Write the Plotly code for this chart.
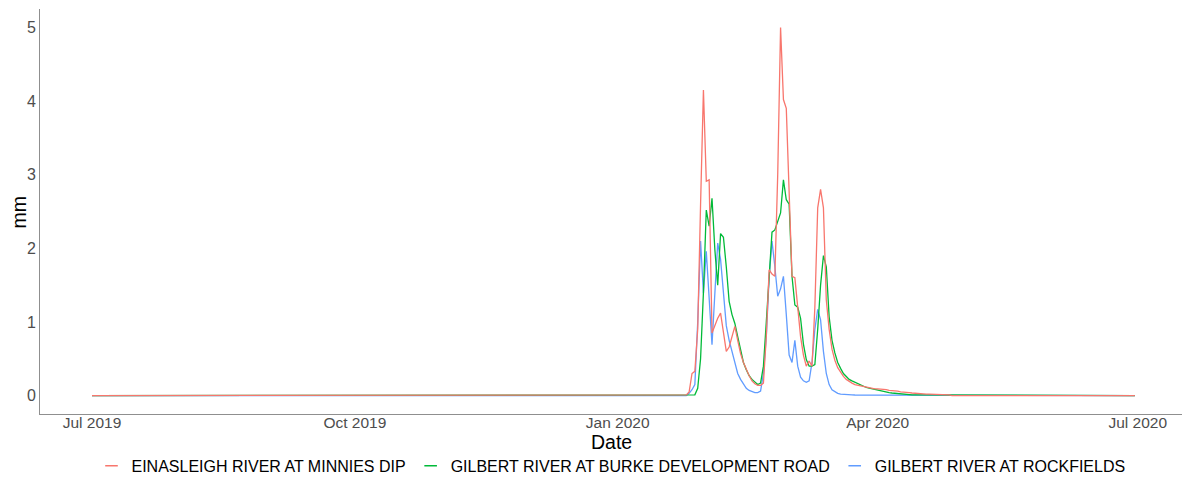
import pandas as pd
import plotly.graph_objects as go

# ---- data -------------------------------------------------------------
series_start = "2019-07-01"
series_end = "2020-06-30"
event_start = "2020-01-22"   # first day of the flow event window below

series_names = [
    "EINASLEIGH RIVER AT MINNIES DIP",
    "GILBERT RIVER AT BURKE DEVELOPMENT ROAD",
    "GILBERT RIVER AT ROCKFIELDS",
]
series_colors = ["#F8766D", "#00BA38", "#619CFF"]

einasleigh_event = [
    0, 0, 0, 0.01, 0.05, 0.30, 0.33, 0.9, 2.6, 4.15,
    2.91, 2.93, 0.85, 0.95, 1.05, 1.12, 0.85, 0.60, 0.66, 0.80,
    0.94, 0.75, 0.57, 0.45, 0.35, 0.27, 0.20, 0.16, 0.14, 0.14,
    0.17, 0.8, 1.71, 1.65, 1.62, 3.0, 5.0, 4.02, 3.9, 2.6,
    1.62, 1.6, 1.2, 0.8, 0.55, 0.40, 0.47, 0.40, 1.2, 2.55,
    2.80, 2.55, 1.3, 0.9, 0.63, 0.48, 0.38, 0.31, 0.26, 0.22,
    0.19, 0.17, 0.15, 0.14, 0.13, 0.12, 0.11, 0.10, 0.10, 0.09,
    0.09, 0.09, 0.08, 0.08, 0.07, 0.07, 0.06, 0.06, 0.05, 0.05,
    0.04, 0.04, 0.035, 0.03, 0.03, 0.025, 0.025, 0.02, 0.02, 0.02,
    0.015, 0.015, 0.015, 0.01, 0.01, 0.01,
]
burke_event = [
    0, 0, 0, 0, 0, 0, 0.01, 0.1, 0.5, 1.4,
    2.52, 2.3, 2.68, 1.98, 1.5, 2.2, 2.15, 1.75, 1.28, 1.1,
    0.98, 0.8, 0.6, 0.45, 0.35, 0.27, 0.22, 0.18, 0.15, 0.17,
    0.4, 1.0, 1.7, 2.22, 2.25, 2.38, 2.48, 2.93, 2.66, 2.6,
    1.62, 1.23, 1.2, 1.05, 0.7, 0.49, 0.4, 0.4, 0.42, 0.9,
    1.5, 1.9, 1.75, 1.07, 0.75, 0.58, 0.45, 0.37, 0.3, 0.26,
    0.22, 0.2, 0.18, 0.16, 0.14, 0.12, 0.11, 0.1, 0.09, 0.08,
    0.07, 0.06, 0.05, 0.045, 0.04, 0.035, 0.03, 0.025, 0.02, 0.02,
    0.015, 0.015, 0.01, 0.01, 0.01, 0.01, 0.008, 0.008, 0.006, 0.006,
    0.005, 0.005, 0.004, 0.004, 0.003, 0.003,
]
rockfields_event = [
    0, 0, 0, 0, 0.03, 0.08, 0.15, 1.0, 2.1, 1.39,
    1.96, 1.3, 0.69, 1.39, 2.07, 1.85, 1.4, 0.95, 0.75, 0.6,
    0.45, 0.3, 0.22, 0.15, 0.1, 0.07, 0.05, 0.04, 0.04, 0.06,
    0.3, 0.8, 1.6, 2.1, 1.75, 1.35, 1.45, 1.62, 1.1, 0.55,
    0.45, 0.75, 0.4, 0.25, 0.2, 0.18, 0.2, 0.45, 0.9, 1.17,
    1.03, 0.6, 0.3, 0.15, 0.08, 0.05, 0.03, 0.02, 0.02, 0.015,
    0.01, 0.01, 0.008, 0.008, 0.006, 0.006, 0.005, 0.005, 0.004, 0.004,
    0.003, 0.003, 0.003, 0.002, 0.002, 0.002, 0.002, 0.001, 0.001, 0.001,
    0.001, 0.001, 0.001, 0.001, 0.001, 0, 0, 0, 0, 0,
    0, 0, 0, 0, 0, 0,
]

tick_dates = ["2019-07-01", "2019-10-01", "2020-01-01", "2020-04-01", "2020-07-01"]
tick_labels = ["Jul 2019", "Oct 2019", "Jan 2020", "Apr 2020", "Jul 2020"]
y_ticks = [0, 1, 2, 3, 4, 5]

# ---- build full daily series (flat zero baseline outside the event) ----
dates = pd.date_range(series_start, series_end, freq="D")


def full_series(event_values):
    idx = pd.date_range(event_start, periods=len(event_values), freq="D")
    s = pd.Series(event_values, index=idx, dtype=float)
    return s.reindex(dates, fill_value=0.0)


all_events = [einasleigh_event, burke_event, rockfields_event]

fig = go.Figure()
# draw in reverse so the red series sits on top of the shared zero baseline
for i in reversed(range(3)):
    s = full_series(all_events[i])
    fig.add_trace(go.Scatter(
        x=s.index, y=s.values, mode="lines", name=series_names[i],
        line=dict(color=series_colors[i], width=1.3), showlegend=False,
    ))
for i in range(3):
    # legend key: short dash like ggplot
    fig.add_trace(go.Scatter(
        x=[None], y=[None], mode="markers", name=series_names[i],
        marker=dict(symbol="line-ew", size=9, color=series_colors[i],
                    line=dict(color=series_colors[i], width=1.5)),
        showlegend=True,
    ))

t0 = pd.Timestamp(series_start)
x_left = t0 - pd.Timedelta(days=18.2)
x_right = t0 + pd.Timedelta(days=381.5)

FONT = "Liberation Sans, Arial, sans-serif"
fig.update_layout(
    width=1182, height=477,
    margin=dict(l=40, r=0, t=9, b=63, autoexpand=False),
    paper_bgcolor="white", plot_bgcolor="white",
    font=dict(family=FONT, color="black"),
    showlegend=True,
    legend=dict(
        orientation="h", x=0.5, xanchor="center", y=-0.128, yanchor="middle",
        font=dict(family=FONT, size=16, color="black"),
        itemwidth=30, tracegroupgap=0, bgcolor="rgba(0,0,0,0)",
    ),
    xaxis=dict(
        range=[x_left, x_right], tickvals=pd.to_datetime(tick_dates), ticktext=tick_labels,
        showgrid=False, zeroline=False, showline=True, linecolor="#8f8f8f", linewidth=1,
        ticks="", tickfont=dict(family=FONT, size=15.5, color="#4D4D4D"),
        ticklabelstandoff=-6,
        automargin=False,
    ),
    yaxis=dict(
        range=[-0.25, 5.25], tickvals=y_ticks,
        showgrid=False, zeroline=False, showline=True, linecolor="#8f8f8f", linewidth=1,
        ticks="", tickfont=dict(family=FONT, size=16, color="#4D4D4D"),
        automargin=False,
    ),
    annotations=[
        dict(
            text="mm", xref="paper", yref="paper", x=-0.0184, y=0.5,
            xanchor="center", yanchor="middle", textangle=-90, showarrow=False,
            font=dict(family=FONT, size=19.5, color="black"),
        ),
        dict(
            text="Date", xref="paper", yref="paper", x=0.5, y=-0.068,
            xanchor="center", yanchor="middle", showarrow=False, borderpad=0,
            font=dict(family=FONT, size=19.5, color="black"),
        ),
    ],
)

fig.write_html("out.html")
